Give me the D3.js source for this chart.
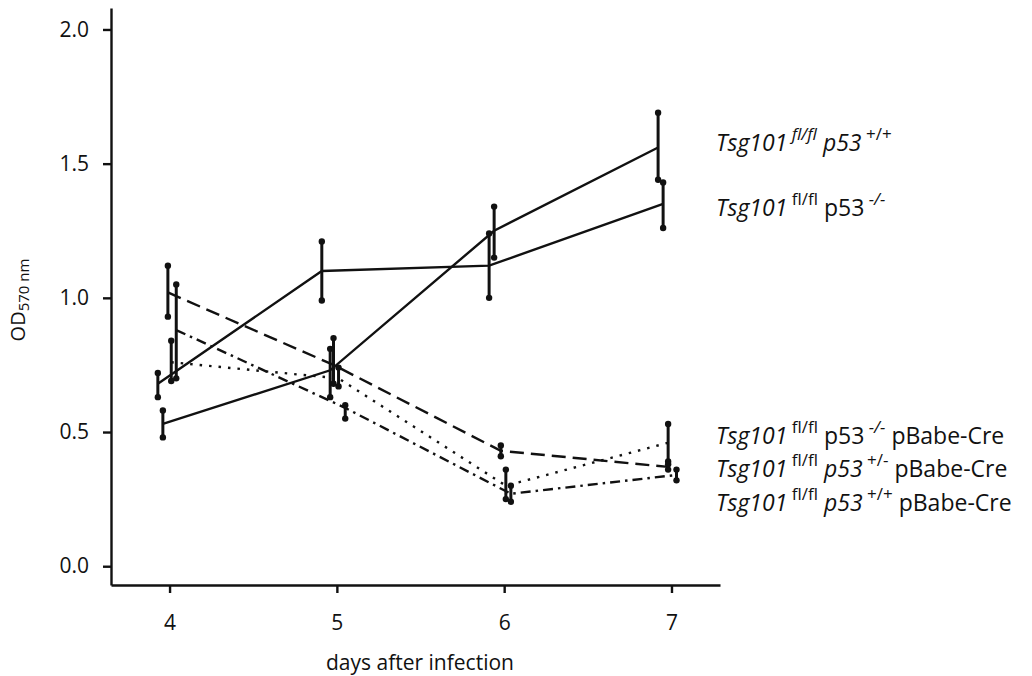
<!DOCTYPE html>
<html>
<head>
<meta charset="utf-8">
<script src="https://cdn.jsdelivr.net/npm/d3@7"></script>
<style>
  body { margin: 0; background: #fff; }
  svg text { font-family: "Open Sans", "Noto Sans", sans-serif; fill: #111; }
  .axis path, .axis line { stroke: #111; stroke-width: 2.4px; }
  .axis text { font-size: 21px; }
</style>
</head>
<body>
<svg id="chart" width="1032" height="676"></svg>
<script>
// days (slightly offset per series as in the figure) and OD570 values
var days = [4, 5, 6, 7];

var xPlusPlus = [3.96, 4.96, 5.94, 6.92];
var yPlusPlus = [0.53, 0.73, 1.25, 1.56];
var loPlusPlus = [0.48, 0.63, 1.15, 1.44];
var hiPlusPlus = [0.58, 0.81, 1.34, 1.69];

var xMinusMinus = [3.93, 4.91, 5.91, 6.95];
var yMinusMinus = [0.68, 1.10, 1.12, 1.35];
var loMinusMinus = [0.63, 0.99, 1.00, 1.26];
var hiMinusMinus = [0.72, 1.21, 1.24, 1.43];

var xCreMinusMinus = [4.01, 5.01, 6.01, 6.98];
var yCreMinusMinus = [0.76, 0.70, 0.30, 0.46];
var loCreMinusMinus = [0.69, 0.67, 0.25, 0.39];
var hiCreMinusMinus = [0.84, 0.74, 0.36, 0.53];

var xCrePlusMinus = [3.99, 4.98, 5.98, 6.98];
var yCrePlusMinus = [1.02, 0.75, 0.43, 0.37];
var loCrePlusMinus = [0.93, 0.68, 0.41, 0.36];
var hiCrePlusMinus = [1.12, 0.85, 0.45, 0.38];

var xCrePlusPlus = [4.04, 5.05, 6.04, 7.03];
var yCrePlusPlus = [0.88, 0.59, 0.27, 0.34];
var loCrePlusPlus = [0.70, 0.55, 0.24, 0.32];
var hiCrePlusPlus = [1.05, 0.60, 0.30, 0.36];

var yTicks = [0, 0.5, 1.0, 1.5, 2.0];

// label parts: [text, italic, superscript]
var labelPlusPlus = [["Tsg101", 1, 0], ["fl/fl", 1, 1], ["p53", 1, 0], ["+/+", 0, 1]];
var labelMinusMinus = [["Tsg101", 1, 0], ["fl/fl", 0, 1], ["p53", 0, 0], ["-/-", 1, 1]];
var labelCreMinusMinus = [["Tsg101", 1, 0], ["fl/fl", 0, 1], ["p53", 0, 0], ["-/-", 1, 1], ["pBabe-Cre", 0, 0]];
var labelCrePlusMinus = [["Tsg101", 1, 0], ["fl/fl", 0, 1], ["p53", 1, 0], ["+/-", 0, 1], ["pBabe-Cre", 0, 0]];
var labelCrePlusPlus = [["Tsg101", 1, 0], ["fl/fl", 0, 1], ["p53", 1, 0], ["+/+", 0, 1], ["pBabe-Cre", 0, 0]];

var series = [
  {x: xPlusPlus, y: yPlusPlus, lo: loPlusPlus, hi: hiPlusPlus, dash: null, label: labelPlusPlus, labelY: 1.578},
  {x: xMinusMinus, y: yMinusMinus, lo: loMinusMinus, hi: hiMinusMinus, dash: null, label: labelMinusMinus, labelY: 1.336},
  {x: xCreMinusMinus, y: yCreMinusMinus, lo: loCreMinusMinus, hi: hiCreMinusMinus, dash: "2.5,7", label: labelCreMinusMinus, labelY: 0.485},
  {x: xCrePlusMinus, y: yCrePlusMinus, lo: loCrePlusMinus, hi: hiCrePlusMinus, dash: "14,7", label: labelCrePlusMinus, labelY: 0.362},
  {x: xCrePlusPlus, y: yCrePlusPlus, lo: loCrePlusPlus, hi: hiCrePlusPlus, dash: "10,5,2.5,5", label: labelCrePlusPlus, labelY: 0.235}
];

var svg = d3.select("#chart");

var x = d3.scaleLinear().domain([3.65, 7.29]).range([111, 720]);
var y = d3.scaleLinear().domain([-0.07, 2.08]).range([585, 8]);

// axes
svg.append("g")
    .attr("class", "axis")
    .attr("transform", "translate(111,0)")
    .call(d3.axisLeft(y).tickValues(yTicks).tickFormat(d3.format(".1f")).tickSize(8).tickSizeOuter(0).tickPadding(14));

svg.append("g")
    .attr("class", "axis")
    .attr("transform", "translate(0,585)")
    .call(d3.axisBottom(x).tickValues(days).tickFormat(d3.format("d")).tickSize(8).tickSizeOuter(0).tickPadding(22));

svg.append("text")
    .attr("x", 420)
    .attr("y", 670)
    .attr("text-anchor", "middle")
    .style("font-size", "21px")
    .text("days after infection");

var ylab = svg.append("text")
    .attr("transform", "translate(25,300) rotate(-90)")
    .attr("text-anchor", "middle")
    .style("font-size", "20px");
ylab.append("tspan").text("OD");
ylab.append("tspan").attr("dy", 4).style("font-size", "15px").text("570 nm");

var line = d3.line()
    .x(function(d) { return x(d[0]); })
    .y(function(d) { return y(d[1]); });

series.forEach(function(s) {
  var pts = s.x.map(function(v, i) { return [v, s.y[i], s.lo[i], s.hi[i]]; });

  svg.append("path")
      .datum(pts)
      .attr("d", line)
      .attr("fill", "none")
      .attr("stroke", "#111")
      .attr("stroke-width", 2.4)
      .attr("stroke-dasharray", s.dash);

  var g = svg.append("g");
  g.selectAll("line.err")
      .data(pts)
    .enter().append("line")
      .attr("class", "err")
      .attr("x1", function(d) { return x(d[0]); })
      .attr("x2", function(d) { return x(d[0]); })
      .attr("y1", function(d) { return y(d[2]); })
      .attr("y2", function(d) { return y(d[3]); })
      .attr("stroke", "#111")
      .attr("stroke-width", 3);

  g.selectAll("circle.lo")
      .data(pts)
    .enter().append("circle")
      .attr("cx", function(d) { return x(d[0]); })
      .attr("cy", function(d) { return y(d[2]); })
      .attr("r", 3.2)
      .attr("fill", "#111");
  g.selectAll("circle.hi")
      .data(pts)
    .enter().append("circle")
      .attr("cx", function(d) { return x(d[0]); })
      .attr("cy", function(d) { return y(d[3]); })
      .attr("r", 3.2)
      .attr("fill", "#111");

  // label
  var t = svg.append("text")
      .attr("x", 716)
      .attr("y", y(s.labelY) + 8)
      .style("font-size", "23px");
  var up = false;
  s.label.forEach(function(p, i) {
    var ts = t.append("tspan")
        .text((i > 0 ? "\u00a0" : "") + p[0])
        .style("font-style", p[1] ? "italic" : "normal");
    if (p[2]) {
      ts.attr("dy", up ? 0 : -11).style("font-size", "17px");
      up = true;
    } else {
      ts.attr("dy", up ? 11 : 0);
      up = false;
    }
  });
});
</script>
</body>
</html>
